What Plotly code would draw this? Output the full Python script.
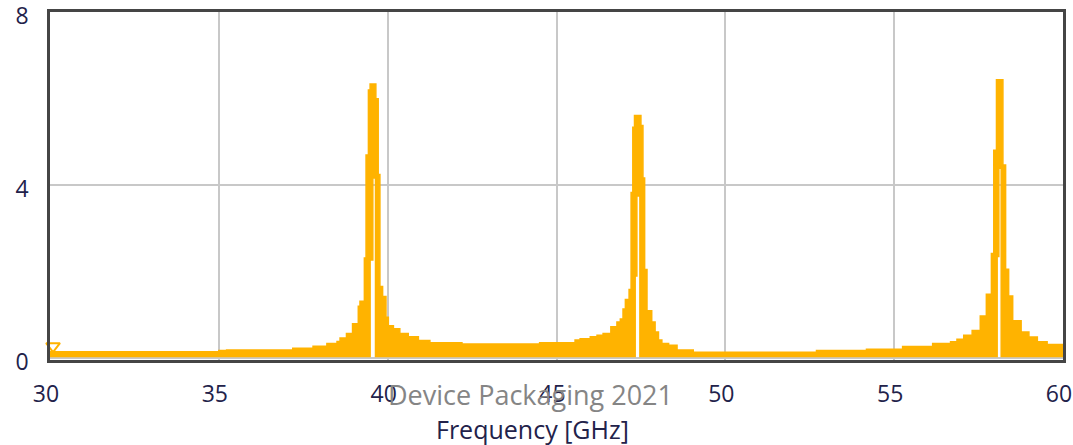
import plotly.graph_objects as go

# Upper edge of the response band (step points: frequency in GHz, value)
upper_freq = [30.0, 35.0, 35.23, 37.19, 37.79, 38.20, 38.50, 38.59, 38.78, 38.96,
              39.13, 39.18, 39.31, 39.36, 39.43, 39.48, 39.65, 39.72, 39.77, 39.85,
              39.95, 40.02, 40.17, 40.36, 40.61, 40.91, 41.25, 42.20, 44.50, 45.55,
              45.70, 46.00, 46.20, 46.38, 46.61, 46.79, 46.89, 46.97, 47.04, 47.15,
              47.21, 47.26, 47.31, 47.50, 47.56, 47.61, 47.68, 47.82, 47.92, 48.02,
              48.12, 48.32, 48.57, 49.05, 52.70, 54.18, 55.25, 56.14, 56.67, 56.86,
              57.06, 57.31, 57.55, 57.73, 57.88, 57.95, 58.03, 58.22, 58.30, 58.39,
              58.51, 58.76, 58.99, 59.24, 59.53, 60.0]
upper_val = [0.15, 0.18, 0.19, 0.23, 0.28, 0.34, 0.39, 0.47, 0.57, 0.80,
             1.20, 1.32, 2.32, 4.70, 6.20, 6.34, 6.00, 4.25, 1.66, 1.43,
             0.95, 0.75, 0.68, 0.57, 0.50, 0.41, 0.36, 0.33, 0.36, 0.42,
             0.45, 0.50, 0.53, 0.57, 0.73, 0.84, 0.91, 1.14, 1.36, 1.59,
             3.83, 5.34, 5.61, 5.38, 4.17, 2.05, 1.10, 0.84, 0.61, 0.42,
             0.34, 0.30, 0.19, 0.14, 0.18, 0.21, 0.27, 0.34, 0.38, 0.44,
             0.53, 0.64, 0.98, 1.48, 2.42, 4.81, 6.44, 4.47, 2.06, 1.44,
             0.87, 0.61, 0.49, 0.38, 0.32, 0.32]

# Lower edge of the band (lifts off the floor in the centre of each resonance)
lower_freq = [30.0, 39.48, 39.56, 39.64, 47.33, 47.38, 47.47, 58.05, 58.10, 58.17, 60.0]
lower_val = [0.04, 2.27, 4.17, 0.04, 1.90, 3.75, 0.04, 2.35, 4.39, 0.04, 0.04]

# Start marker
marker_freq = [30.09]
marker_val = [0.28]

x_ticks = [30, 35, 40, 45, 50, 55, 60]
y_ticks = [0, 4, 8]

orange = "#FFB300"
tick_color = "#22224a"

fig = go.Figure()
fig.add_trace(go.Scatter(
    x=lower_freq, y=lower_val, mode="lines",
    line=dict(color=orange, width=1.5, shape="hv"),
    hoverinfo="skip", showlegend=False))
fig.add_trace(go.Scatter(
    x=upper_freq, y=upper_val, mode="lines",
    line=dict(color=orange, width=1.5, shape="hv"),
    fill="tonexty", fillcolor=orange, showlegend=False))
fig.add_trace(go.Scatter(
    x=marker_freq, y=marker_val, mode="markers",
    marker=dict(symbol="triangle-down-open", size=12, color=orange,
                line=dict(color=orange, width=2)),
    showlegend=False, cliponaxis=False))

fig.update_layout(
    width=1073, height=445,
    margin=dict(l=50, r=10, t=12, b=85),
    paper_bgcolor="white", plot_bgcolor="white",
    font=dict(family="Open Sans", size=23, color=tick_color),
)
fig.update_xaxes(
    range=[30, 60], tickvals=x_ticks, ticktext=[str(t) for t in x_ticks],
    showgrid=True, gridcolor="#c8c8c8", gridwidth=1.5,
    showline=True, linecolor="#454545", linewidth=2.5, mirror=True,
    zeroline=False, ticks="", ticklabelstandoff=12, ticklabelshift=-4,
    tickfont=dict(size=23, color=tick_color), automargin=False,
    ticklabeloverflow="allow",
)
fig.update_yaxes(
    range=[-0.04, 8.005], tickvals=y_ticks, ticktext=[str(t) for t in y_ticks],
    showgrid=True, gridcolor="#c8c8c8", gridwidth=1.5,
    showline=True, linecolor="#454545", linewidth=2.5, mirror=True,
    zeroline=False, ticks="", ticklabelstandoff=14, ticklabelshift=4,
    tickfont=dict(size=23, color=tick_color), automargin=False,
    ticklabeloverflow="allow",
)

fig.add_annotation(
    text="Frequency [GHz]", xref="paper", yref="paper",
    x=(532 - 50) / 1013, y=-(429 - 360) / 348,
    xanchor="center", yanchor="middle", showarrow=False,
    font=dict(family="Open Sans", size=25, color=tick_color))
fig.add_annotation(
    text="Device Packaging 2021", xref="paper", yref="paper",
    x=(530 - 50) / 1013, y=-(394 - 360) / 348,
    xanchor="center", yanchor="middle", showarrow=False,
    font=dict(family="Open Sans", size=27, color="#858585"))

fig.write_html("out.html")
